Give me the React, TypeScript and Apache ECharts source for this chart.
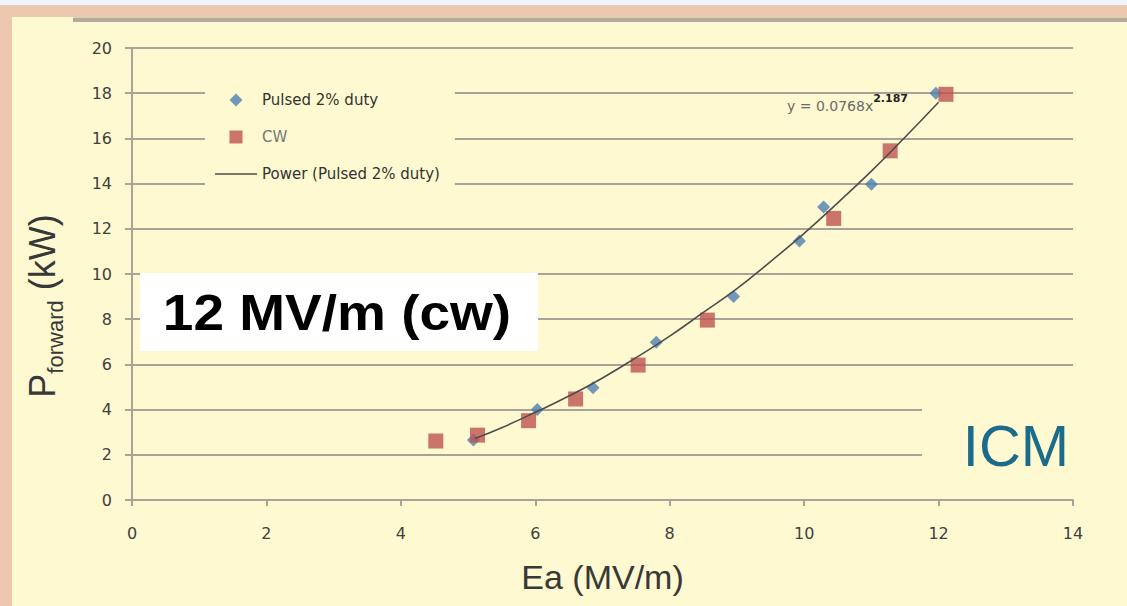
import React, { useEffect, useRef } from "react";
import * as echarts from "echarts";

const pulsedX = [5.08, 6.03, 6.86, 7.8, 8.95, 9.93, 10.29, 11.0, 11.96];
const pulsedY = [2.65, 4.0, 4.97, 6.98, 9.0, 11.46, 12.96, 13.97, 18.0];
const cwX = [4.52, 5.14, 5.9, 6.6, 7.53, 8.56, 10.44, 11.28, 12.11];
const cwY = [2.61, 2.87, 3.51, 4.47, 5.97, 7.96, 12.46, 15.45, 17.95];
const trendX = [5.1, 5.5, 6, 6.5, 7, 7.5, 8, 8.5, 9, 9.5, 10, 10.5, 11, 11.5, 12];
const trendY = [2.72, 3.2, 3.88, 4.6, 5.4, 6.3, 7.25, 8.3, 9.35, 10.55, 11.8, 13.15, 14.55, 16.05, 17.6];

const seriesNames = ["Pulsed 2% duty", "CW", "Power (Pulsed 2% duty)"];
const xTitle = "Ea (MV/m)";
const equation = { base: "y = 0.0768x", exp: "2.187" };
const noteText = "12 MV/m (cw)";
const brand = "ICM";

const BG = "#FEF9D0";
const GRID = "#A9A296";
const SANS = '"Liberation Sans", Arial, sans-serif';
const DV = '"DejaVu Sans", Verdana, sans-serif';

export default function App() {
  const ref = useRef<HTMLDivElement>(null);
  useEffect(() => {
    if (!ref.current) return;
    const chart = echarts.init(ref.current, undefined, { renderer: "svg" });
    const zip = (xs: number[], ys: number[]) => xs.map((x, i) => [x, ys[i]]);
    chart.setOption({
      animation: false,
      backgroundColor: BG,
      grid: { left: 132, right: 54, top: 48, bottom: 106, containLabel: false },
      xAxis: {
        type: "value",
        min: 0,
        max: 14,
        interval: 2,
        name: xTitle,
        nameLocation: "middle",
        nameGap: 60,
        nameTextStyle: { fontFamily: SANS, fontSize: 34, color: "#383838" },
        axisLine: { show: true, lineStyle: { color: GRID, width: 2 } },
        axisTick: { show: true, length: 6, lineStyle: { color: GRID, width: 2 } },
        axisLabel: { margin: 25, fontFamily: DV, fontSize: 16, color: "#404040" },
        splitLine: { show: false },
      },
      yAxis: {
        type: "value",
        min: 0,
        max: 20,
        interval: 2,
        name: "{p|P}{sub|forward}{k|(kW)}",
        nameLocation: "middle",
        nameGap: 66,
        nameRotate: 90,
        nameTextStyle: {
          color: "#383838",
          padding: [0, 64, 0, 0],
          rich: {
            p: { fontFamily: SANS, fontSize: 36, color: "#383838", verticalAlign: "top", lineHeight: 42 },
            sub: { fontFamily: SANS, fontSize: 22, color: "#383838", verticalAlign: "bottom", lineHeight: 23 },
            k: { fontFamily: SANS, fontSize: 36, color: "#383838", verticalAlign: "top", lineHeight: 42, padding: [0, 0, 0, 10] },
          },
        },
        axisLine: { show: true, lineStyle: { color: GRID, width: 2 } },
        axisTick: { show: true, length: 7, lineStyle: { color: GRID, width: 2 } },
        axisLabel: { margin: 20, fontFamily: DV, fontSize: 16, color: "#404040" },
        splitLine: { show: true, lineStyle: { color: GRID, width: 2 } },
      },
      legend: {
        orient: "vertical",
        left: 205,
        top: 75,
        padding: [17, 15, 19, 10],
        backgroundColor: BG,
        itemWidth: 42,
        itemHeight: 13,
        itemGap: 21,
        symbolKeepAspect: true,
        textStyle: { fontFamily: DV, fontSize: 15, color: "#333", lineHeight: 16 },
        data: [
          { name: seriesNames[0], icon: "path://M0,-1L1,0L0,1L-1,0Z" },
          { name: seriesNames[1], icon: "path://M0,0H1V1H0Z", textStyle: { color: "#777" } },
          { name: seriesNames[2], icon: "path://M0,0H42V1.6H0Z" },
        ],
      },
      series: [
        {
          name: seriesNames[0],
          type: "scatter",
          symbol: "diamond",
          symbolSize: 13,
          itemStyle: { color: "#4F7FB3" },
          data: zip(pulsedX, pulsedY),
        },
        {
          name: seriesNames[1],
          type: "scatter",
          symbol: "rect",
          symbolSize: 15,
          itemStyle: { color: "#BE5450" },
          data: zip(cwX, cwY),
        },
        {
          name: seriesNames[2],
          type: "line",
          smooth: true,
          symbol: "none",
          lineStyle: { color: "#4d4d4d", width: 1.6 },
          itemStyle: { color: "#4d4d4d" },
          data: zip(trendX, trendY),
        },
      ],
      graphic: [
        { type: "rect", z: 1, shape: { x: 0, y: 0, width: 1127, height: 5 }, style: { fill: "#EEF3FC" } },
        { type: "rect", z: 1, shape: { x: 0, y: 5, width: 1127, height: 12 }, style: { fill: "#ECC9AE" } },
        { type: "rect", z: 1, shape: { x: 0, y: 5, width: 12, height: 601 }, style: { fill: "#ECC9AE" } },
        { type: "rect", z: 1, shape: { x: 73, y: 17.5, width: 1054, height: 4.5 }, style: { fill: "#B2AA9B" } },
        { type: "rect", z: 5, shape: { x: 140, y: 273, width: 398, height: 78 }, style: { fill: "#FFFFFF" } },
        {
          type: "text",
          z: 6,
          x: 337,
          y: 312,
          scaleX: 1.1,
          style: {
            text: noteText,
            fontFamily: SANS,
            fontWeight: "bold",
            fontSize: 50,
            fill: "#000",
            align: "center",
            verticalAlign: "middle",
          },
        },
        { type: "rect", z: 5, shape: { x: 922, y: 395, width: 160, height: 80 }, style: { fill: BG } },
        {
          type: "text",
          z: 6,
          x: 1016,
          y: 445,
          style: {
            text: brand,
            fontFamily: SANS,
            fontSize: 58,
            fill: "#1B6B8C",
            align: "center",
            verticalAlign: "middle",
          },
        },
        {
          type: "text",
          z: 6,
          x: 787,
          y: 103,
          style: {
            text: `{a|${equation.base}}{b|${equation.exp}}`,
            verticalAlign: "middle",
            rich: {
              a: { fontFamily: DV, fontSize: 14, fill: "#6a6a6a", color: "#6a6a6a", verticalAlign: "bottom", lineHeight: 20 },
              b: { fontFamily: DV, fontSize: 11, fontWeight: "bold", fill: "#222", color: "#222", verticalAlign: "top", lineHeight: 20 },
            },
          },
        },
      ],
    });
    return () => chart.dispose();
  }, []);
  return (
    <div
      ref={ref}
      style={{ position: "fixed", left: 0, top: 0, width: 1127, height: 606 }}
    />
  );
}
